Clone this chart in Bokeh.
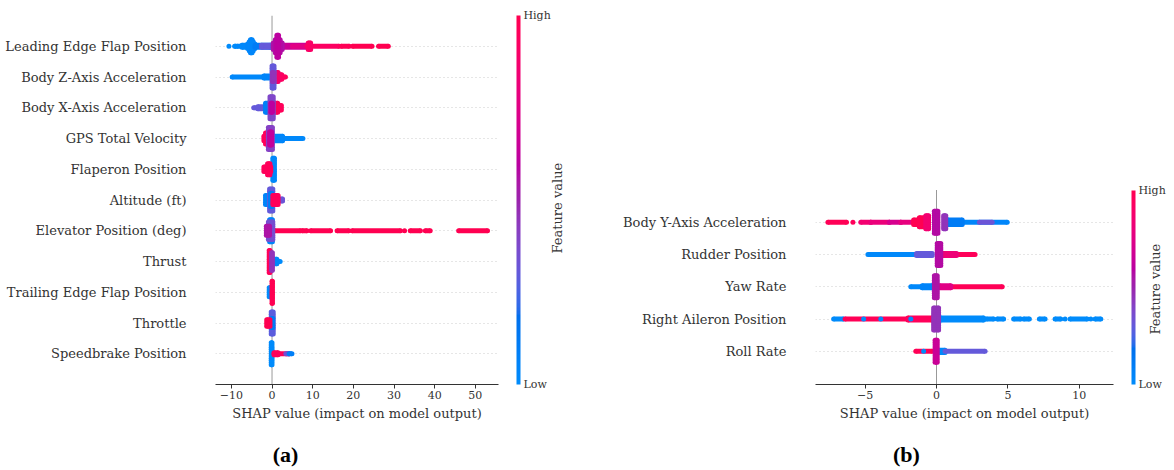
import math
from bokeh.plotting import figure
from bokeh.layouts import row
from bokeh.models import (Range1d, FixedTicker, ColorBar, LinearColorMapper,
                          LinearAxis, ColumnDataSource)
from bokeh.embed import file_html
from bokeh.resources import INLINE

# ------------------------------------------------------------------ data
LEFT_FEATURES = ["Leading Edge Flap Position", "Body Z-Axis Acceleration",
                 "Body X-Axis Acceleration", "GPS Total Velocity", "Flaperon Position",
                 "Altitude (ft)", "Elevator Position (deg)", "Thrust",
                 "Trailing Edge Flap Position", "Throttle", "Speedbrake Position"]
LEFT_TICKS = [-10, 0, 10, 20, 30, 40, 50]
RIGHT_FEATURES = ["Body Y-Axis Acceleration", "Rudder Position", "Yaw Rate",
                  "Right Aileron Position", "Roll Rate"]
RIGHT_TICKS = [-5, 0, 5, 10]
TICK_LABELS_LEFT = ["\u221210", "0", "10", "20", "30", "40", "50"]
TICK_LABELS_RIGHT = ["\u22125", "0", "5", "10"]

# every entry: (SHAP value from, SHAP value to, feature value 0..1, stacked points)
LEADING_EDGE = [(-10.6, -10.6, 0.00, 1), (-9.2, -8.9, 0.00, 1), (-8.6, -5.0, 0.02, 1),
                (-7.4, -5.6, 0.02, 2), (-6.0, -4.2, 0.03, 3), (-5.6, -4.6, 0.03, 5),
                (-5.3, -4.9, 0.03, 7), (-4.2, -0.4, 0.10, 2), (-2.6, 0.4, 0.30, 2),
                (2.0, 8.8, 0.65, 2), (5.0, 8.6, 0.75, 1), (8.6, 16.5, 0.92, 1),
                (8.9, 9.5, 0.90, 4), (17.0, 19.0, 0.97, 1), (19.8, 24.6, 1.00, 1),
                (26.2, 28.6, 1.00, 1), (0.3, 2.5, 0.55, 4), (0.8, 2.0, 0.58, 7),
                (1.2, 1.6, 0.60, 11)]
BODY_Z = [(-9.8, -0.6, 0.02, 1), (-2.0, -0.2, 0.05, 2), (0.8, 3.3, 0.95, 1),
          (0.7, 2.4, 0.92, 3), (0.6, 1.5, 0.88, 5), (0.0, 0.5, 0.30, 11),
          (0.1, 0.4, 0.45, 5)]
BODY_X = [(-4.5, -0.8, 0.30, 1), (-3.5, -1.0, 0.30, 2), (-1.6, -0.4, 0.08, 5),
          (0.5, 2.3, 0.95, 3), (0.4, 1.4, 0.95, 5), (-0.5, 0.3, 0.38, 11),
          (-0.3, 0.1, 0.60, 5)]
GPS_VELOCITY = [(0.4, 7.6, 0.02, 1), (0.4, 2.6, 0.03, 3), (-2.0, -0.8, 0.95, 3),
                (-1.6, -1.0, 0.95, 6), (-0.9, 0.1, 0.40, 11), (-0.6, -0.1, 0.62, 7)]
FLAPERON = [(0.2, 0.6, 0.02, 11), (-2.0, -0.3, 0.95, 3), (-1.1, -0.5, 0.95, 6)]
ALTITUDE = [(-1.6, -0.5, 0.05, 5), (1.0, 2.6, 0.32, 2), (-0.6, 0.2, 0.30, 11),
            (-0.4, 0.0, 0.08, 7), (0.2, 1.5, 0.95, 5)]
ELEVATOR = [(0.6, 7.0, 1.00, 1), (7.4, 8.6, 1.00, 1), (9.5, 14.4, 1.00, 1),
            (16.0, 18.9, 1.00, 1), (19.7, 31.6, 1.00, 1), (32.6, 32.6, 1.00, 1),
            (34.0, 36.5, 1.00, 1), (37.7, 38.9, 1.00, 1), (45.9, 53.0, 1.00, 1),
            (-0.6, 0.1, 0.05, 11), (-0.9, 0.2, 0.35, 9), (-1.4, -0.6, 0.55, 5)]
THRUST = [(0.3, 2.0, 0.00, 1), (0.3, 1.2, 0.02, 3), (-0.7, -0.5, 0.95, 11),
          (-0.1, 0.1, 0.45, 9)]
TRAILING_EDGE = [(-0.7, -0.5, 0.00, 5), (0.0, 0.1, 1.00, 11)]
THROTTLE = [(-0.2, 0.3, 0.28, 11), (-0.1, 0.2, 0.10, 5), (-1.3, -0.5, 1.00, 4)]
SPEEDBRAKE = [(-0.2, 0.0, 0.00, 11), (0.5, 4.2, 0.95, 1), (0.5, 1.5, 0.95, 2),
              (3.4, 4.2, 0.35, 1), (4.2, 4.9, 0.08, 1)]

BODY_Y = [(-7.6, -6.3, 0.97, 1), (-5.85, -5.85, 0.95, 1), (-5.3, -4.6, 0.85, 1),
          (-4.6, -3.3, 0.80, 1), (-3.3, -2.5, 0.70, 1), (-2.5, -1.6, 0.78, 1),
          (-1.6, -0.8, 1.00, 3), (-1.2, -0.8, 0.98, 5), (0.8, 4.95, 0.03, 1),
          (3.0, 3.9, 0.32, 1), (0.8, 1.8, 0.10, 3), (-0.75, -0.55, 0.85, 7),
          (0.5, 0.65, 0.45, 7), (-0.15, 0.1, 0.58, 11)]
RUDDER = [(-4.8, -1.4, 0.02, 1), (-1.4, -0.3, 0.30, 2), (0.5, 2.7, 0.96, 1),
          (0.4, 1.4, 0.82, 2), (0.05, 0.3, 0.58, 11)]
YAW_RATE = [(-1.8, -0.2, 0.02, 1), (-1.0, -0.3, 0.05, 2), (0.2, 4.6, 0.97, 1),
            (0.2, 1.0, 0.75, 2), (-0.15, 0.05, 0.55, 11)]
RIGHT_AILERON = [(-7.2, -6.5, 0.00, 1), (-6.4, -0.3, 0.97, 1), (-2.0, -0.3, 0.95, 2),
                 (-5.1, -5.1, 0.00, 1), (-3.9, -3.9, 0.00, 1), (-1.8, -1.8, 0.00, 1),
                 (0.3, 3.3, 0.00, 2), (3.5, 4.0, 0.00, 1), (4.25, 4.7, 0.00, 1),
                 (5.4, 5.9, 0.00, 1), (6.1, 6.5, 0.00, 1), (7.2, 7.6, 0.00, 1),
                 (8.3, 8.7, 0.00, 1), (9.0, 9.0, 0.00, 1), (9.35, 10.55, 0.00, 1),
                 (10.8, 10.8, 0.00, 1), (11.1, 11.5, 0.00, 1), (-0.2, 0.15, 0.45, 11)]
ROLL_RATE = [(-1.45, -0.3, 0.97, 1), (-0.9, -0.9, 0.00, 1), (0.1, 0.6, 0.02, 2),
             (0.6, 3.4, 0.30, 1), (-0.1, 0.05, 0.65, 11)]

LEFT_DATA = [LEADING_EDGE, BODY_Z, BODY_X, GPS_VELOCITY, FLAPERON, ALTITUDE,
             ELEVATOR, THRUST, TRAILING_EDGE, THROTTLE, SPEEDBRAKE]
RIGHT_DATA = [BODY_Y, RUDDER, YAW_RATE, RIGHT_AILERON, ROLL_RATE]

# ------------------------------------------------------------------ style
FONT = "DejaVu Serif"
TXT = "#333333"
DOT = 5.0      # point diameter, px
STEP = 2.2     # vertical spacing of stacked points, px


def lch_to_hex(l, c, h):
    a, b = c * math.cos(h), c * math.sin(h)
    fy = (l + 16.0) / 116.0
    fx, fz = fy + a / 500.0, fy - b / 200.0

    def finv(t):
        return t ** 3 if t > 0.2068966 else (t - 16.0 / 116.0) / 7.787
    X, Y, Z = 0.95047 * finv(fx), finv(fy), 1.08883 * finv(fz)
    rgb = [3.2404542 * X - 1.5371385 * Y - 0.4985314 * Z,
           -0.9692660 * X + 1.8760108 * Y + 0.0415560 * Z,
           0.0556434 * X - 0.2040259 * Y + 1.0572252 * Z]
    out = []
    for v in rgb:
        v = 1.055 * v ** (1 / 2.4) - 0.055 if v > 0.0031308 else 12.92 * v
        out.append(int(round(min(max(v, 0.0), 1.0) * 255)))
    return "#%02x%02x%02x" % tuple(out)


# shap red_blue colour map (blue -> purple -> red in LCH space)
NSTEP = 100
blue_lch = (54.0, 70.0, 4.6588)
red_lch = (54.0, 90.0, 0.35470565 + 2 * math.pi)
PALETTE = []
for i in range(NSTEP):
    t = i / (NSTEP - 1)
    if i < NSTEP // 2:
        l = blue_lch[0] + (40.0 - blue_lch[0]) * (i / (NSTEP // 2 - 1))
    else:
        l = 40.0 + (red_lch[0] - 40.0) * ((i - NSTEP // 2) / (NSTEP // 2 - 1))
    c = blue_lch[1] + (red_lch[1] - blue_lch[1]) * t
    h = blue_lch[2] + (red_lch[2] - blue_lch[2]) * t
    PALETTE.append(lch_to_hex(l, c, h))

mapper = LinearColorMapper(palette=PALETTE, low=0, high=1)

FRAME_TOP, FRAME_BOTTOM, H = 15, 384, 470


def make_panel(W, features, data, xr, yr, ticks, tick_labels, frame_left, frame_right,
               fv_px, fv_standoff, panel_label, pl_px, pl_standoff):
    n = len(features)
    p = figure(width=W, height=H, x_range=Range1d(*xr), y_range=Range1d(*yr),
               output_backend="svg", toolbar_location=None,
               min_border_left=frame_left, min_border_right=W - frame_right,
               min_border_top=FRAME_TOP, min_border_bottom=H - FRAME_BOTTOM)
    p.outline_line_color = None
    p.background_fill_color = "white"
    p.border_fill_color = "white"
    p.xgrid.visible = False
    p.ygrid.ticker = FixedTicker(ticks=list(range(n)))
    p.ygrid.grid_line_color = "#cccccc"
    p.ygrid.grid_line_dash = "1 3"
    p.ygrid.grid_line_width = 1

    yax = p.yaxis[0]
    yax.ticker = FixedTicker(ticks=list(range(n)))
    yax.major_label_overrides = {n - 1 - i: f for i, f in enumerate(features)}
    yax.axis_line_color = None
    yax.major_tick_line_color = None
    yax.minor_tick_line_color = None
    yax.major_label_standoff = 23
    yax.major_label_text_font = FONT
    yax.major_label_text_font_size = "13px"
    yax.major_label_text_color = TXT

    xax = p.xaxis[0]
    xax.ticker = FixedTicker(ticks=ticks)
    xax.major_label_overrides = {t: s for t, s in zip(ticks, tick_labels)}
    xax.axis_line_color = TXT
    xax.major_tick_line_color = TXT
    xax.major_tick_out = 4
    xax.major_tick_in = 0
    xax.minor_tick_line_color = None
    xax.major_label_standoff = 2
    xax.major_label_text_font = FONT
    xax.major_label_text_font_size = "11px"
    xax.major_label_text_color = TXT
    xax.axis_label = "SHAP value (impact on model output)"
    xax.axis_label_text_font = FONT
    xax.axis_label_text_font_size = "13px"
    xax.axis_label_text_font_style = "normal"
    xax.axis_label_text_color = TXT
    xax.axis_label_standoff = 4

    row_px = (FRAME_BOTTOM - FRAME_TOP) / (yr[1] - yr[0])

    def xd(px):
        return xr[0] + (px - frame_left) * (xr[1] - xr[0]) / (frame_right - frame_left)

    def yd(py):
        return yr[1] - (py - FRAME_TOP) / row_px

    # zero line
    p.segment(x0=[0], x1=[0], y0=[yr[0]], y1=[n], line_color="#999999", line_width=1)

    for i, entries in enumerate(data):
        yc = n - 1 - i
        for x0, x1, fv, cnt in entries:
            ys = [yc + (k - (cnt - 1) / 2) * STEP / row_px for k in range(cnt)]
            if x1 > x0:
                src = ColumnDataSource(dict(x0=[x0] * cnt, x1=[x1] * cnt, y=ys, fv=[fv] * cnt))
                p.segment(x0="x0", x1="x1", y0="y", y1="y", source=src, line_width=DOT,
                          line_cap="butt", line_color={"field": "fv", "transform": mapper})
                px = [x0] * cnt + [x1] * cnt
                py = ys + ys
            else:
                px = [x0] * cnt
                py = ys
            src2 = ColumnDataSource(dict(x=px, y=py, fv=[fv] * len(px)))
            p.scatter(x="x", y="y", source=src2, size=DOT, marker="circle",
                      fill_color={"field": "fv", "transform": mapper}, line_color=None)

    cb = ColorBar(color_mapper=mapper, orientation="vertical", width=4,
                  height=int(round((n - yr[0]) * row_px)), padding=0, margin=0,
                  location=(18, 0),
                  ticker=FixedTicker(ticks=[0, 1]),
                  major_label_overrides={0: "Low", 1: "High"},
                  major_tick_line_color=None, bar_line_color=None,
                  border_line_color=None, background_fill_alpha=0,
                  label_standoff=3, major_label_text_font=FONT,
                  major_label_text_font_size="11px", major_label_text_color=TXT)
    p.add_layout(cb, "right")

    # "Feature value" caption of the colour bar (text runs upward from its tick)
    fv_y = round(yd(fv_px + 48), 3)
    fax = LinearAxis(ticker=FixedTicker(ticks=[fv_y]),
                     major_label_overrides={fv_y: "Feature value"},
                     axis_line_color=None, major_tick_line_color=None,
                     minor_tick_line_color=None, major_tick_out=0, major_tick_in=0,
                     major_label_orientation=math.pi / 2,
                     major_label_standoff=fv_standoff, major_label_text_font=FONT,
                     major_label_text_font_size="13px", major_label_text_color=TXT)
    p.add_layout(fax, "right")

    # panel caption "(a)" / "(b)"
    pl_x = round(xd(pl_px), 3)
    pax = LinearAxis(ticker=FixedTicker(ticks=[pl_x]),
                     major_label_overrides={pl_x: panel_label},
                     axis_line_color=None, major_tick_line_color=None,
                     minor_tick_line_color=None, major_tick_out=0, major_tick_in=0,
                     major_label_standoff=pl_standoff,
                     major_label_text_font="Liberation Serif",
                     major_label_text_font_size="22px",
                     major_label_text_line_height=1.0,
                     major_label_text_font_style="bold",
                     major_label_text_color="#000000")
    p.add_layout(pax, "below")
    return p


left = make_panel(587, LEFT_FEATURES, LEFT_DATA, (-13.9, 55.7), (-1, 11), LEFT_TICKS,
                  TICK_LABELS_LEFT, 215, 498, 205, 4, "(a)", 285, 18)
right = make_panel(587, RIGHT_FEATURES, RIGHT_DATA, (-8.47, 12.39), (-1.03, 10.41),
                   RIGHT_TICKS, TICK_LABELS_RIGHT, 228, 526, 286, -13, "(b)", 906 - 587, 18)

layout = row(left, right, spacing=0)
open("out.html", "w").write(file_html(layout, INLINE))
